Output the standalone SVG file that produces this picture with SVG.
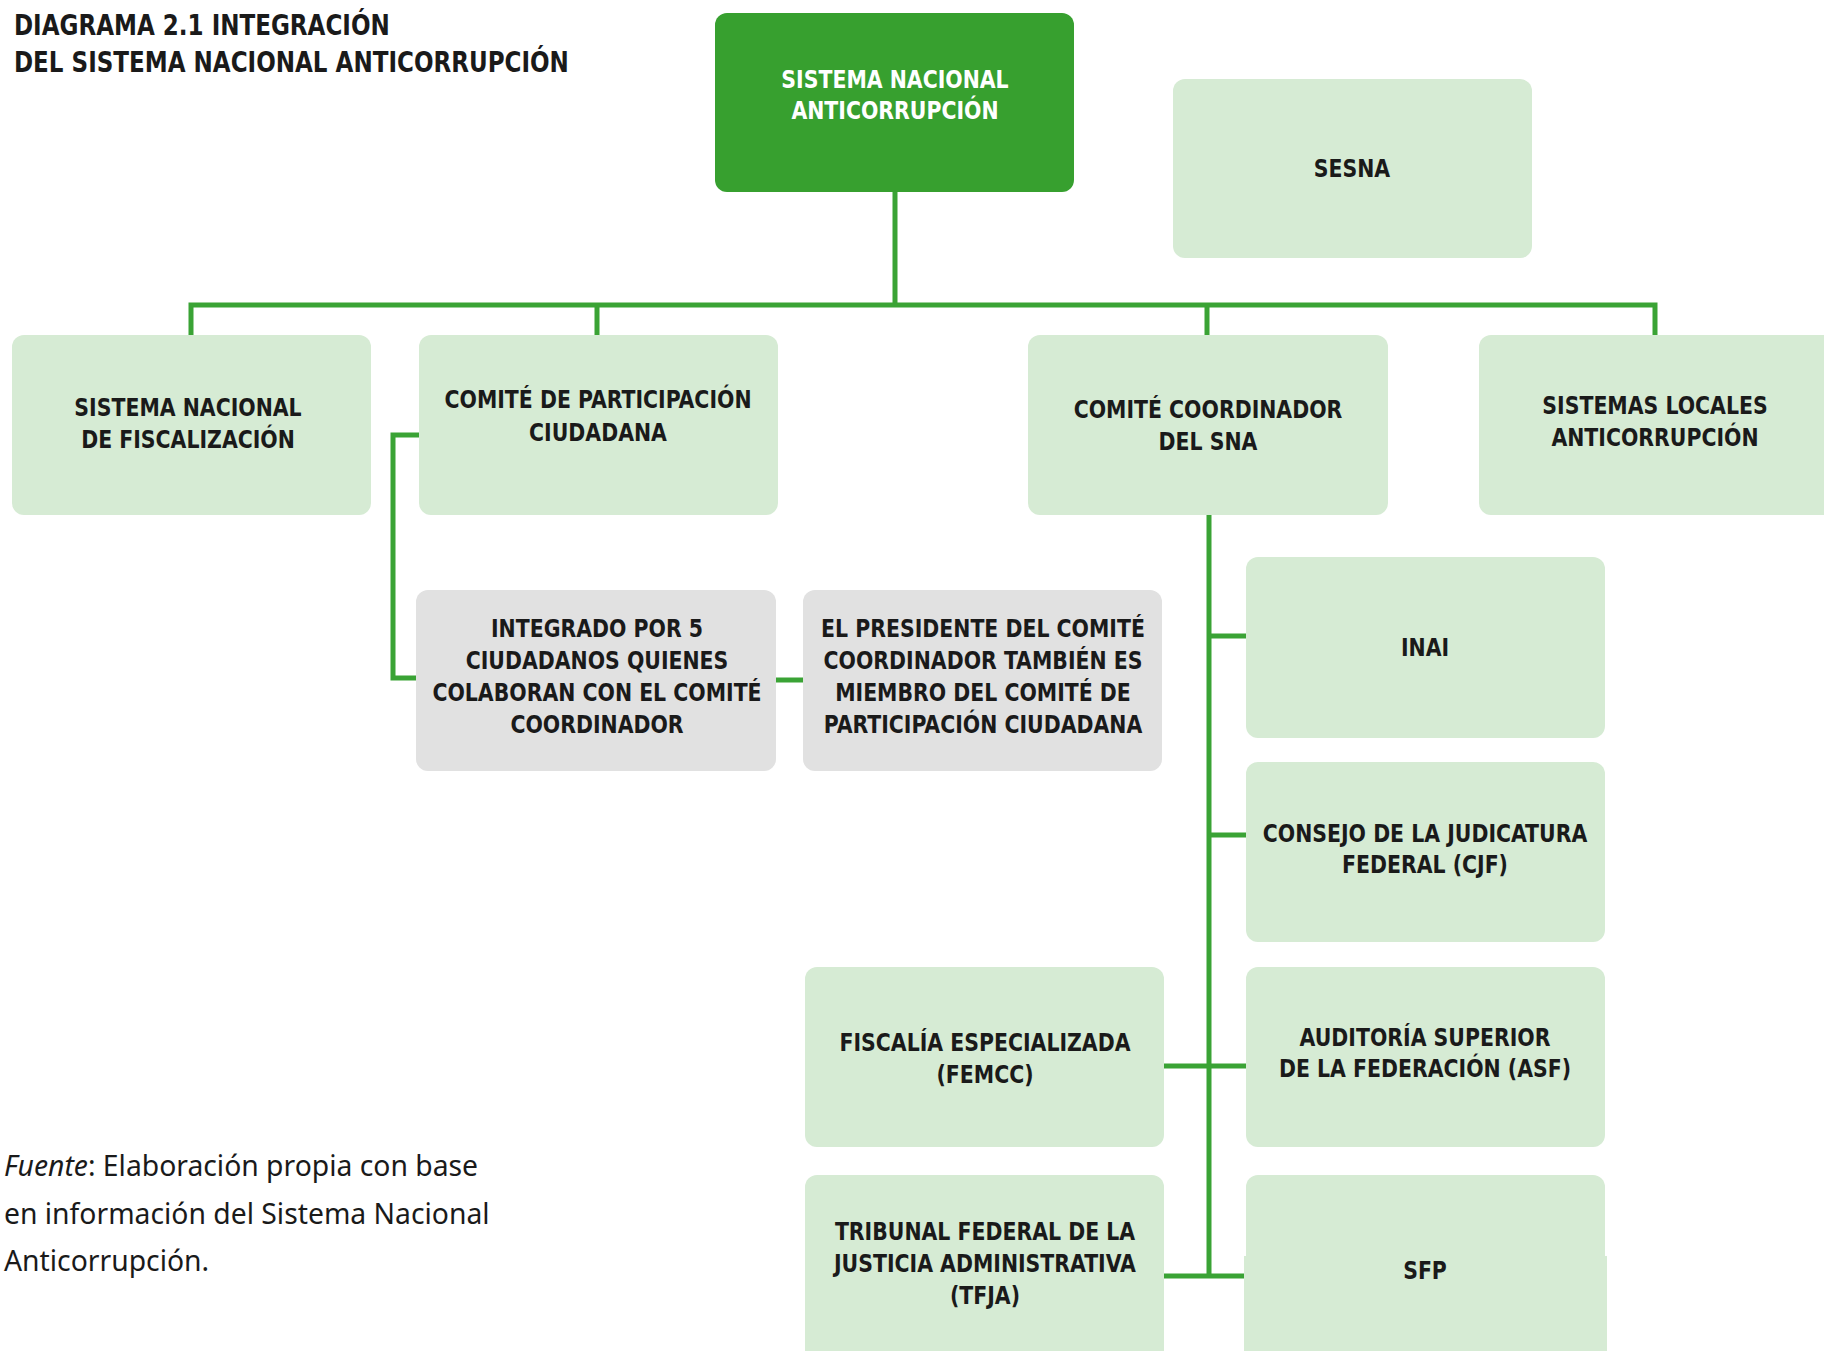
<svg xmlns="http://www.w3.org/2000/svg" width="1824" height="1351" viewBox="0 0 1824 1351">
<style>
.box{fill:#d6ebd4}
.gray{fill:#e1e1e1}
.main{fill:#37a02f}
.t{font-family:"Liberation Sans Narrow","DejaVu Sans Condensed","Roboto Condensed","Liberation Sans",sans-serif;font-weight:bold;font-size:25px;fill:#1a1a1a;text-anchor:middle;transform-box:fill-box;transform-origin:center;transform:scaleX(0.91)}
.w{fill:#ffffff}
.title{font-family:"Liberation Sans Narrow","DejaVu Sans Condensed","Liberation Sans",sans-serif;font-weight:bold;font-size:28px;fill:#1a1a1a;transform-box:fill-box;transform-origin:left center;transform:scaleX(0.915)}
.src{font-family:"Noto Sans","Open Sans",sans-serif;font-size:28.3px;fill:#1a1a1a}
.c{stroke:#3aa335;stroke-width:5;fill:none}
</style>
<rect width="1824" height="1351" fill="#ffffff"/>
<g id="title">
<text class="title" x="14" y="35">DIAGRAMA 2.1 INTEGRACIÓN</text>
<text class="title" x="14" y="72">DEL SISTEMA NACIONAL ANTICORRUPCIÓN</text>
</g>
<g id="connectors">
<path class="c" d="M895 192 V305 M191 335 V305 H1655 V335 M597 305 V335 M1207 305 V335"/>
<path class="c" d="M419 435 H393 V678 H416 M776 680 H803"/>
<path class="c" d="M1209 515 V1278 M1209 636 H1246 M1209 835 H1246 M1164 1066 H1246 M1164 1276 H1246"/>
</g>
<g id="n-sna"><rect class="main" x="715" y="13" width="359" height="179" rx="12"/>
<text class="t w" x="895" y="88">SISTEMA NACIONAL</text><text class="t w" x="895" y="119">ANTICORRUPCIÓN</text></g>
<g id="n-sesna"><rect class="box" x="1173" y="79" width="359" height="179" rx="12"/>
<text class="t" x="1352" y="177">SESNA</text></g>
<g id="n-snf"><rect class="box" x="12" y="335" width="359" height="180" rx="12"/>
<text class="t" x="188" y="416">SISTEMA NACIONAL</text><text class="t" x="188" y="448">DE FISCALIZACIÓN</text></g>
<g id="n-cpc"><rect class="box" x="419" y="335" width="359" height="180" rx="12"/>
<text class="t" x="598" y="408">COMITÉ DE PARTICIPACIÓN</text><text class="t" x="598" y="441">CIUDADANA</text></g>
<g id="n-cc"><rect class="box" x="1028" y="335" width="360" height="180" rx="12"/>
<text class="t" x="1208" y="418">COMITÉ COORDINADOR</text><text class="t" x="1208" y="450">DEL SNA</text></g>
<g id="n-sla"><rect class="box" x="1479" y="335" width="360" height="180" rx="12"/>
<text class="t" x="1655" y="414">SISTEMAS LOCALES</text><text class="t" x="1655" y="446">ANTICORRUPCIÓN</text></g>
<g id="n-integrado"><rect class="gray" x="416" y="590" width="360" height="181" rx="12"/>
<text class="t" x="597" y="637">INTEGRADO POR 5</text><text class="t" x="597" y="669">CIUDADANOS QUIENES</text><text class="t" x="597" y="701">COLABORAN CON EL COMITÉ</text><text class="t" x="597" y="733">COORDINADOR</text></g>
<g id="n-presidente"><rect class="gray" x="803" y="590" width="359" height="181" rx="12"/>
<text class="t" x="983" y="637">EL PRESIDENTE DEL COMITÉ</text><text class="t" x="983" y="669">COORDINADOR TAMBIÉN ES</text><text class="t" x="983" y="701">MIEMBRO DEL COMITÉ DE</text><text class="t" x="983" y="733">PARTICIPACIÓN CIUDADANA</text></g>
<g id="n-inai"><rect class="box" x="1246" y="557" width="359" height="181" rx="12"/>
<text class="t" x="1425" y="656">INAI</text></g>
<g id="n-cjf"><rect class="box" x="1246" y="762" width="359" height="180" rx="12"/>
<text class="t" x="1425" y="842">CONSEJO DE LA JUDICATURA</text><text class="t" x="1425" y="873">FEDERAL (CJF)</text></g>
<g id="n-asf"><rect class="box" x="1246" y="967" width="359" height="180" rx="12"/>
<text class="t" x="1425" y="1046">AUDITORÍA SUPERIOR</text><text class="t" x="1425" y="1077">DE LA FEDERACIÓN (ASF)</text></g>
<g id="n-sfp"><rect class="box" x="1246" y="1175" width="359" height="190" rx="12"/>
<rect class="box" x="1244" y="1256" width="363" height="95"/>
<text class="t" x="1425" y="1279">SFP</text></g>
<g id="n-femcc"><rect class="box" x="805" y="967" width="359" height="180" rx="12"/>
<text class="t" x="985" y="1051">FISCALÍA ESPECIALIZADA</text><text class="t" x="985" y="1083">(FEMCC)</text></g>
<g id="n-tfja"><rect class="box" x="805" y="1175" width="359" height="190" rx="12"/>
<text class="t" x="985" y="1240">TRIBUNAL FEDERAL DE LA</text><text class="t" x="985" y="1272">JUSTICIA ADMINISTRATIVA</text><text class="t" x="985" y="1304">(TFJA)</text></g>
<g id="source">
<text class="src" x="4" y="1176"><tspan font-style="italic">Fuente</tspan>: Elaboración propia con base</text>
<text class="src" x="4" y="1224">en información del Sistema Nacional</text>
<text class="src" x="4" y="1271">Anticorrupción.</text>
</g>
</svg>
